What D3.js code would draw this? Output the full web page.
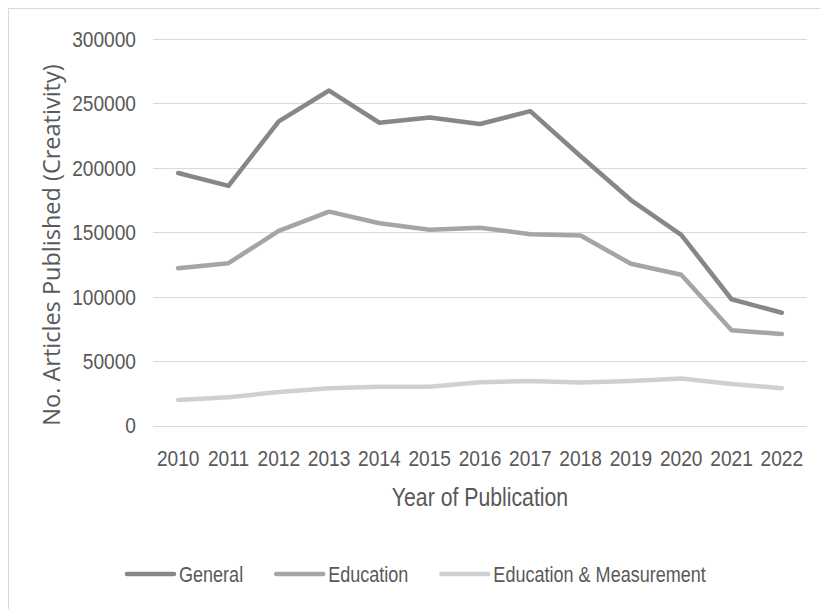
<!DOCTYPE html>
<html>
<head>
<meta charset="utf-8">
<script src="https://cdn.jsdelivr.net/npm/d3@7"></script>
<style>
  html, body { margin: 0; padding: 0; background: #ffffff; }
  svg { display: block; }
</style>
</head>
<body>
<svg id="chart" width="820" height="609"></svg>
<script>
// Articles published on creativity, by year of publication
const years = ["2010", "2011", "2012", "2013", "2014", "2015", "2016",
               "2017", "2018", "2019", "2020", "2021", "2022"];
const general = [196000, 186000, 236000, 260000, 235000, 239000, 234000,
                 244000, 209000, 175000, 148000, 98000, 87500];
const education = [122000, 126000, 151000, 166000, 157000, 152000, 153500,
                   148500, 147500, 125500, 117000, 74000, 71000];
const educationMeasurement = [19800, 21900, 26000, 29000, 30000, 30000, 33500,
                              34500, 33300, 34500, 36500, 32200, 29000];
const yTicks = [0, 50000, 100000, 150000, 200000, 250000, 300000];
const seriesNames = ["General", "Education", "Education & Measurement"];

const series = [
  { name: seriesNames[0], values: general, color: "#878787" },
  { name: seriesNames[1], values: education, color: "#a5a5a5" },
  { name: seriesNames[2], values: educationMeasurement, color: "#d0d0d0" }
];

const svg = d3.select("#chart");
const textColor = "#595959";
// Condensed look: Liberation Sans squeezed horizontally
const labelFont = "'Liberation Sans', Arial, sans-serif";
const squeeze = 0.82;
const digitSqueeze = 0.87;

// Chart area frame
svg.append("rect")
  .attr("x", 8.5).attr("y", 8.5)
  .attr("width", 830).attr("height", 620)
  .attr("fill", "#ffffff")
  .attr("stroke", "#d9d9d9")
  .attr("stroke-width", 1);

const plot = { left: 153, right: 807, top: 39, bottom: 425.5 };

const x = d3.scaleBand()
  .domain(years)
  .range([plot.left, plot.right]);

const y = d3.scaleLinear()
  .domain([0, 300000])
  .range([plot.bottom, plot.top]);

// Horizontal gridlines
svg.append("g")
  .selectAll("line")
  .data(yTicks)
  .join("line")
  .attr("x1", plot.left).attr("x2", plot.right)
  .attr("y1", d => Math.round(y(d)) + 0.5)
  .attr("y2", d => Math.round(y(d)) + 0.5)
  .attr("stroke", "#d9d9d9")
  .attr("stroke-width", 1);

// Y axis tick labels
const yAxis = d3.axisLeft(y).tickValues(yTicks).tickSize(0).tickPadding(0)
  .tickFormat(d3.format("d"));
const gy = svg.append("g").attr("transform", "translate(136,0)").call(yAxis);
gy.select(".domain").remove();
gy.selectAll("text")
  .attr("font-family", labelFont)
  .attr("font-size", 22)
  .attr("fill", textColor)
  .attr("dy", "0.34em")
  .attr("transform", `scale(${digitSqueeze},1)`);

// X axis tick labels
const xAxis = d3.axisBottom(x).tickSize(0).tickPadding(0);
const gx = svg.append("g").attr("transform", "translate(0,466)").call(xAxis);
gx.select(".domain").remove();
gx.selectAll("text")
  .attr("font-family", labelFont)
  .attr("font-size", 22)
  .attr("fill", textColor)
  .attr("dy", 0)
  .attr("transform", `scale(${digitSqueeze},1)`);

// Axis titles
svg.append("text")
  .attr("transform", `translate(${(plot.left + plot.right) / 2},506) scale(0.85,1)`)
  .attr("text-anchor", "middle")
  .attr("font-family", labelFont)
  .attr("font-size", 25)
  .attr("fill", textColor)
  .text("Year of Publication");

svg.append("text")
  .attr("transform", "translate(60,245) rotate(-90)")
  .attr("text-anchor", "middle")
  .attr("font-family", "'Open Sans', sans-serif")
  .attr("font-size", 23.5)
  .attr("fill", textColor)
  .text("No. Articles Published (Creativity)");

// Series lines
const line = d3.line()
  .x((d, i) => x(years[i]) + x.bandwidth() / 2)
  .y(d => y(d));

svg.append("g")
  .selectAll("path")
  .data(series.slice().reverse())
  .join("path")
  .attr("d", d => line(d.values))
  .attr("fill", "none")
  .attr("stroke", d => d.color)
  .attr("stroke-width", 4.5)
  .attr("stroke-linejoin", "round")
  .attr("stroke-linecap", "round");

// Legend
const legend = svg.append("g").attr("transform", "translate(127,574)");
let offset = 0;
series.forEach(s => {
  const item = legend.append("g").attr("transform", `translate(${offset},0)`);
  item.append("line")
    .attr("x1", 0).attr("x2", 47)
    .attr("y1", 0).attr("y2", 0)
    .attr("stroke", s.color)
    .attr("stroke-width", 4.5)
    .attr("stroke-linecap", "round");
  const t = item.append("text")
    .attr("transform", `translate(52,7.5) scale(${squeeze},1)`)
    .attr("font-family", labelFont)
    .attr("font-size", 22)
    .attr("fill", textColor)
    .text(s.name);
  offset += 52 + t.node().getComputedTextLength() * squeeze + 33;
});
</script>
</body>
</html>
